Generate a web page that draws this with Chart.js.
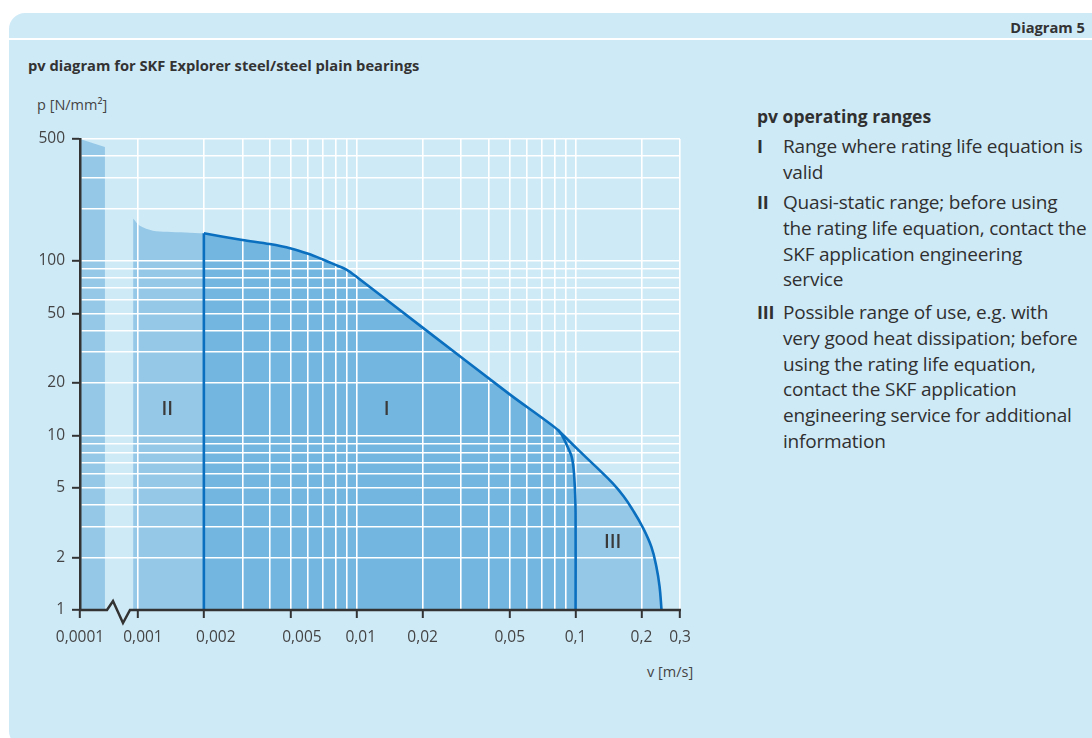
<!DOCTYPE html>
<html>
<head>
<meta charset="utf-8">
<script src="https://cdn.jsdelivr.net/npm/chart.js@4/dist/chart.umd.min.js"></script>
<style>
  html, body { margin: 0; padding: 0; width: 1092px; height: 738px; overflow: hidden; background: #ffffff; font-family: "Open Sans", Lato, sans-serif; }
  #card { position: absolute; left: 9px; top: 13px; width: 1110px; height: 734px; background: #cfeaf7; border-radius: 16px; }
  #rule { position: absolute; left: 9px; top: 38px; width: 1083px; height: 2px; background: #ffffff; }
  .t { position: absolute; white-space: nowrap; color: #333333; }
  #diag { right: 7px; top: 17px; font-weight: 700; font-size: 14.7px; line-height: 20px; }
  #title { left: 28px; top: 55px; font-weight: 700; font-size: 14.7px; line-height: 20px; }
  #ylab { left: 37px; top: 95px; font-size: 14.5px; line-height: 20px; color: #444444; }
  #xlab { left: 647px; top: 662px; font-size: 14.5px; line-height: 20px; color: #444444; }
  #legend { position: absolute; left: 757px; top: 0; color: #303030; }
  #legend h3 { position: absolute; left: 0; top: 104px; margin: 0; font-size: 17.5px; line-height: 24px; font-weight: 700; white-space: nowrap; }
  .item { position: absolute; left: 0; font-size: 19px; line-height: 25.8px; white-space: nowrap; letter-spacing: -0.2px; }
  .item b { position: absolute; left: 0; top: 0; font-weight: 700; font-size: 18px; }
  .item span { position: absolute; left: 26px; top: 0; }
  canvas { position: absolute; left: 0; top: 0; }
</style>
</head>
<body>
<div id="card"></div>
<div id="rule"></div>
<div class="t" id="diag">Diagram 5</div>
<div class="t" id="title">pv diagram for SKF Explorer steel/steel plain bearings</div>
<div class="t" id="ylab">p [N/mm²]</div>
<div class="t" id="xlab">v [m/s]</div>
<div id="legend">
  <h3>pv operating ranges</h3>
  <div class="item" style="top:134px"><b>I</b><span>Range where rating life equation is<br>valid</span></div>
  <div class="item" style="top:190px"><b>II</b><span>Quasi-static range; before using<br>the rating life equation, contact the<br>SKF application engineering<br>service</span></div>
  <div class="item" style="top:300px"><b>III</b><span>Possible range of use, e.g. with<br>very good heat dissipation; before<br>using the rating life equation,<br>contact the SKF application<br>engineering service for additional<br>information</span></div>
</div>
<canvas id="pv" width="1092" height="738"></canvas>
<script>
// ---- sliding velocity axis v [m/s] ----
const vTicks = [0.0001, 0.001, 0.002, 0.005, 0.01, 0.02, 0.05, 0.1, 0.2, 0.3];
const vTickLabels = ['0,0001', '0,001', '0,002', '0,005', '0,01', '0,02', '0,05', '0,1', '0,2', '0,3'];
const vGrid = [0.001, 0.002, 0.003, 0.004, 0.005, 0.006, 0.007, 0.008, 0.009,
               0.01, 0.02, 0.03, 0.04, 0.05, 0.06, 0.07, 0.08, 0.09, 0.1, 0.2, 0.3];

// ---- specific load axis p [N/mm²] ----
const pTicks = [1, 2, 5, 10, 20, 50, 100, 500];
const pTickLabels = ['1', '2', '5', '10', '20', '50', '100', '500'];
const pGrid = [1, 2, 3, 4, 5, 6, 7, 8, 9, 10, 20, 30, 40, 50, 60, 70, 80, 90, 100, 200, 300, 400, 500];

// ---- operating range boundaries ----
// static band near v = 0,0001
const staticV = [0.0001, 0.00013];
const staticP = [500, 450];
// range II (quasi-static)
const range2V = [0.00095, 0.00102, 0.00117, 0.00136, 0.002];
const range2P = [175, 159, 149, 147, 144];
// upper limit shared by ranges I and III
const limitV = [0.002, 0.003, 0.004, 0.005, 0.006, 0.007, 0.008, 0.009, 0.01, 0.02, 0.05, 0.0828];
const limitP = [144, 132, 125, 118, 110, 102, 95, 89, 81, 41.5, 17.2, 10.8];
// right edge of range I
const range1EdgeV = [0.0873, 0.0918, 0.0959, 0.098, 0.0993, 0.1, 0.1];
const range1EdgeP = [9.87, 8.65, 7.57, 6.38, 4.9, 3.6, 1];
// right edge of range III
const range3EdgeV = [0.104, 0.1248, 0.1476, 0.166, 0.182, 0.202, 0.222, 0.234, 0.242, 0.247];
const range3EdgeP = [8.16, 6.56, 5.33, 4.47, 3.76, 3.0, 2.3, 1.77, 1.36, 1];

// range markers
const rangeNames = ['II', 'I', 'III'];
const rangeNameV = [0.00136, 0.0137, 0.1476];
const rangeNameP = [14, 14, 2.43];

const zip = (xs, ys) => xs.map((x, i) => ({ x: x, y: ys[i] }));

const FONT = '"Open Sans", Lato, sans-serif';
const COL = {
  light: '#95c8e7',
  dark: '#73b6e0',
  edge: '#0a6fbf',
  grid: '#ffffff',
  axis: '#333333',
  text: '#444444',
  marker: '#3a3a3a',
  none: 'rgba(0,0,0,0)'
};

// Logarithmic axis with a break: values below `breakBelow` are moved
// `collapse` decades to the right so 0,0001 sits next to 0,001.
class BrokenLogScale extends Chart.LogarithmicScale {
  static id = 'brokenLog';
  static defaults = Chart.LogarithmicScale.defaults;
  _pos(v) {
    const l = Math.log10(v);
    return v < this.options.breakBelow ? l + this.options.collapse : l;
  }
  determineDataLimits() {
    this.min = this.options.min;
    this.max = this.options.max;
  }
  buildTicks() {
    return vGrid.concat([vTicks[0]]).sort((a, b) => a - b).map(v => ({ value: v }));
  }
  configure() {
    super.configure();
    this._u0 = this._pos(this.min);
    this._u1 = this._pos(this.max);
  }
  getPixelForValue(v) {
    if (v === undefined || v <= 0) v = this.min;
    return this.getPixelForDecimal((this._pos(v) - this._u0) / (this._u1 - this._u0));
  }
  getValueForPixel(px) {
    const u = this._u0 + this.getDecimalForPixel(px) * (this._u1 - this._u0);
    const vRight = Math.pow(10, u);
    return vRight >= this.options.breakBelow ? vRight : Math.pow(10, u - this.options.collapse);
  }
}
Chart.register(BrokenLogScale);

Chart.defaults.font.family = FONT;

const labelled = (list, v) => list.some(t => Math.abs(t - v) / t < 1e-6);

// fills go under the white grid, boundary lines above it
const overlay = {
  id: 'overlay',
  beforeDatasetDraw(chart, args) {
    if (chart.data.datasets[args.index].outline) return false;
  },
  afterDraw(chart) {
    const ctx = chart.ctx;
    const xs = chart.scales.x, ys = chart.scales.y;
    const area = chart.chartArea;

    chart.data.datasets.forEach((ds, i) => {
      if (ds.outline) chart.getDatasetMeta(i).controller.draw();
    });

    // v axis line with break symbol
    const x0 = xs.getPixelForValue(vTicks[0]);
    const y0 = area.bottom;
    ctx.save();
    ctx.strokeStyle = COL.axis;
    ctx.lineWidth = 2.5;
    ctx.lineJoin = 'miter';
    ctx.beginPath();
    ctx.moveTo(x0 - 1, y0);
    ctx.lineTo(x0 + 27, y0);
    ctx.lineTo(x0 + 33, y0 - 9);
    ctx.lineTo(x0 + 43, y0 + 13);
    ctx.lineTo(x0 + 50, y0);
    ctx.lineTo(area.right + 1, y0);
    ctx.stroke();

    // v tick labels
    const nudge = { 0.001: 5, 0.002: 12, 0.005: 11, 0.01: 4 };
    ctx.fillStyle = COL.text;
    ctx.font = '15.5px ' + FONT;
    ctx.textAlign = 'center';
    ctx.textBaseline = 'middle';
    vTicks.forEach((v, i) => {
      ctx.fillText(vTickLabels[i], xs.getPixelForValue(v) + (nudge[v] || 0), y0 + 28);
    });

    // range markers
    ctx.fillStyle = COL.marker;
    ctx.font = '600 19px ' + FONT;
    rangeNames.forEach((n, i) => {
      ctx.fillText(n, xs.getPixelForValue(rangeNameV[i]), ys.getPixelForValue(rangeNameP[i]));
    });
    ctx.restore();
  }
};

const fillSet = (data, color, order, tension) => ({
  data: data, fill: 'start', backgroundColor: color, borderWidth: 0,
  pointRadius: 0, tension: tension, order: order
});
const lineSet = (data, tension) => ({
  data: data, fill: false, borderColor: COL.edge, borderWidth: 2.6,
  pointRadius: 0, tension: tension, outline: true, order: 0
});

new Chart(document.getElementById('pv'), {
  type: 'line',
  data: {
    datasets: [
      fillSet(zip(limitV.concat(range1EdgeV), limitP.concat(range1EdgeP)), COL.dark, 1, 0.3),
      fillSet(zip(limitV.concat(range3EdgeV), limitP.concat(range3EdgeP)), COL.light, 2, 0.4),
      fillSet(zip(range2V, range2P), COL.light, 2, 0.3),
      fillSet(zip(staticV, staticP), COL.light, 2, 0),
      lineSet(zip([limitV[0], limitV[0]], [1, limitP[0]]), 0),
      lineSet(zip(limitV.concat(range1EdgeV), limitP.concat(range1EdgeP)), 0.3),
      lineSet(zip([limitV[limitV.length - 1]].concat(range3EdgeV), [limitP[limitP.length - 1]].concat(range3EdgeP)), 0.4)
    ]
  },
  options: {
    responsive: false,
    animation: false,
    devicePixelRatio: 1,
    layout: { padding: { left: 0, top: 139, right: 412, bottom: 88 } },
    plugins: { legend: { display: false }, tooltip: { enabled: false } },
    events: [],
    scales: {
      x: {
        type: 'brokenLog',
        min: 0.0001,
        max: 0.3,
        breakBelow: 0.0005,
        collapse: 0.735,
        afterFit: s => { s.height = 40; },
        border: { display: false },
        grid: {
          z: 1,
          lineWidth: 1.6,
          color: c => (c.tick && c.tick.value < 0.0005) ? COL.none : COL.grid,
          drawTicks: true,
          tickLength: 8,
          tickWidth: 2,
          tickColor: c => (c.tick && labelled(vTicks, c.tick.value)) ? COL.axis : COL.none
        },
        ticks: { display: false, autoSkip: false }
      },
      y: {
        type: 'logarithmic',
        min: 1,
        max: 500,
        afterFit: s => { s.width = 80; },
        afterBuildTicks: s => { s.ticks = pGrid.map(v => ({ value: v })); },
        border: { display: true, color: COL.axis, width: 2.5, z: 2 },
        grid: {
          z: 1,
          lineWidth: 1.6,
          color: c => (c.tick && c.tick.value === 1) ? COL.none : COL.grid,
          drawTicks: true,
          tickLength: 8,
          tickWidth: 2,
          tickColor: c => (c.tick && labelled(pTicks, c.tick.value)) ? COL.axis : COL.none
        },
        ticks: {
          autoSkip: false,
          padding: 7,
          color: COL.text,
          font: { size: 15.5 },
          callback: v => {
            const k = pTicks.findIndex(t => Math.abs(t - v) / t < 1e-6);
            return k >= 0 ? pTickLabels[k] : '';
          }
        }
      }
    }
  },
  plugins: [overlay]
});
</script>
</body>
</html>
